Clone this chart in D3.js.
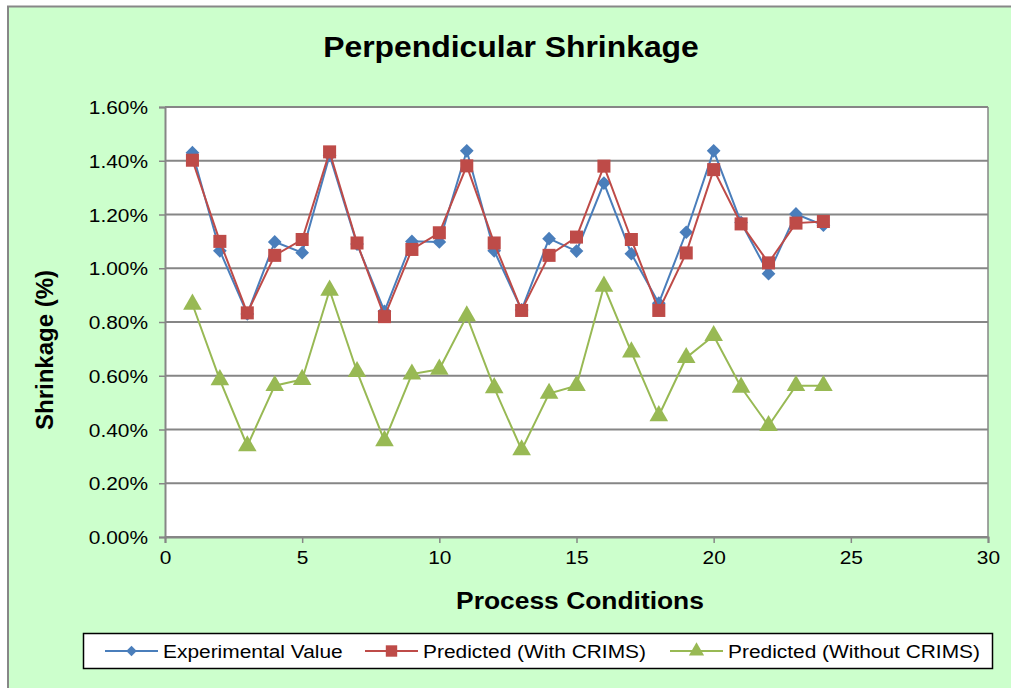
<!DOCTYPE html>
<html><head><meta charset="utf-8">
<script src="https://cdn.jsdelivr.net/npm/d3@7"></script>
<style>body{margin:0;background:#fff;}svg{display:block;font-family:"Liberation Sans",Arial,sans-serif;}</style>
</head><body>
<svg id="c" width="1011" height="688"></svg>
<script>
const conditions = [1,2,3,4,5,6,7,8,9,10,11,12,13,14,15,16,17,18,19,20,21,22,23,24];
const experimental = [1.43,1.065,0.83,1.098,1.058,1.42,1.09,0.84,1.10,1.098,1.437,1.065,0.845,1.11,1.064,1.317,1.054,0.87,1.134,1.437,1.17,0.98,1.202,1.16];
const withCrims = [1.402,1.10,0.834,1.048,1.107,1.433,1.094,0.82,1.07,1.132,1.381,1.094,0.843,1.048,1.116,1.38,1.107,0.843,1.057,1.367,1.165,1.02,1.168,1.174];
const withoutCrims = [0.866,0.585,0.339,0.563,0.586,0.918,0.615,0.358,0.606,0.624,0.822,0.555,0.324,0.534,0.563,0.933,0.688,0.451,0.667,0.749,0.557,0.414,0.563,0.563];
const yTicks = [0,0.2,0.4,0.6,0.8,1.0,1.2,1.4,1.6];
const xTicks = [0,5,10,15,20,25,30];
const seriesNames = ["Experimental Value","Predicted (With CRIMS)","Predicted (Without CRIMS)"];

const svg = d3.select("#c");
const W = 1011, H = 688;
const L = 165, R = 988, T = 107, B = 537;
const SX = 1.1;

svg.append("rect").attr("x",0).attr("y",0).attr("width",W).attr("height",H).attr("fill","#fff");
svg.append("rect").attr("x",8).attr("y",6.5).attr("width",W+20).attr("height",H+20)
  .attr("fill","#CCFFCC").attr("stroke","#878787").attr("stroke-width",2);

const x = d3.scaleLinear().domain([0,30]).range([L,R]);
const y = d3.scaleLinear().domain([0,1.6]).range([B,T]);

svg.append("rect").attr("x",L).attr("y",T).attr("width",R-L).attr("height",B-T).attr("fill","#fff");

svg.append("g").selectAll("line").data(yTicks).join("line")
  .attr("x1",L).attr("x2",R).attr("y1",d=>y(d)).attr("y2",d=>y(d))
  .attr("stroke","#868686").attr("stroke-width",2);
svg.append("line").attr("x1",R).attr("x2",R).attr("y1",T).attr("y2",B).attr("stroke","#868686").attr("stroke-width",1.5);

const yAxis = d3.axisLeft(y).tickValues(yTicks).tickSize(6).tickFormat(d=>d.toFixed(2)+"%");
const gy = svg.append("g").attr("transform",`translate(${L},0)`).call(yAxis);
const xAxis = d3.axisBottom(x).tickValues(xTicks).tickSize(6);
const gx = svg.append("g").attr("transform",`translate(0,${B})`).call(xAxis);
[gy,gx].forEach(g=>{
  g.select(".domain").attr("stroke","#868686").attr("stroke-width",2);
  g.selectAll(".tick line").attr("stroke","#868686").attr("stroke-width",1.5);
  g.selectAll("text").attr("font-size",19).attr("fill","#000").attr("font-family","'Liberation Sans',Arial,sans-serif");
});
gy.selectAll("text").attr("x",-17/SX).attr("dy","0.35em").attr("transform",`scale(${SX},1)`);
gx.selectAll("text").attr("y",27).attr("dy",0).attr("transform",`scale(${SX},1)`)
  .attr("x",d=>0);

svg.append("text").attr("transform",`translate(511,57) scale(${SX},1)`).attr("text-anchor","middle")
  .attr("font-size",29).attr("font-weight","bold").text("Perpendicular Shrinkage");
svg.append("text").attr("transform",`translate(580,609) scale(${SX},1)`).attr("text-anchor","middle")
  .attr("font-size",24).attr("font-weight","bold").text("Process Conditions");
svg.append("text").attr("transform","translate(53,350) rotate(-90)").attr("text-anchor","middle")
  .attr("font-size",24).attr("font-weight","bold").text("Shrinkage (%)");

const colors = ["#4A7EBB","#BE4B48","#98B954"];
const symbols = [d3.symbolDiamond2, d3.symbolSquare, d3.symbolTriangle];
const sizes = [120, 170, 150];
const data = [experimental, withCrims, withoutCrims];

const line = d3.line().x((d,i)=>x(conditions[i])).y(d=>y(d));
data.forEach((vals,k)=>{
  const g = svg.append("g");
  g.append("path").datum(vals).attr("d",line).attr("fill","none")
    .attr("stroke",colors[k]).attr("stroke-width",2);
  g.selectAll("path.m").data(vals).join("path").attr("class","m")
    .attr("transform",(d,i)=>`translate(${x(conditions[i])},${y(d)})`)
    .attr("d",d3.symbol().type(symbols[k]).size(sizes[k]))
    .attr("fill",colors[k]);
});

svg.append("rect").attr("x",83.5).attr("y",633.5).attr("width",909).attr("height",35)
  .attr("fill","#fff").attr("stroke","#000").attr("stroke-width",1.5);
const legX = [105, 365, 670];
seriesNames.forEach((name,k)=>{
  const g = svg.append("g").attr("transform",`translate(${legX[k]},651)`);
  g.append("line").attr("x1",0).attr("x2",53).attr("y1",0).attr("y2",0).attr("stroke",colors[k]).attr("stroke-width",2);
  g.append("path").attr("transform",`translate(26.5,0)`)
    .attr("d",d3.symbol().type(symbols[k]).size(k===0?70:(k===1?130:100))).attr("fill",colors[k]);
  g.append("text").attr("transform",`translate(58,0) scale(${SX},1)`).attr("dy","0.36em")
    .attr("font-size",19).attr("fill","#000").text(name);
});
</script>
</body></html>
